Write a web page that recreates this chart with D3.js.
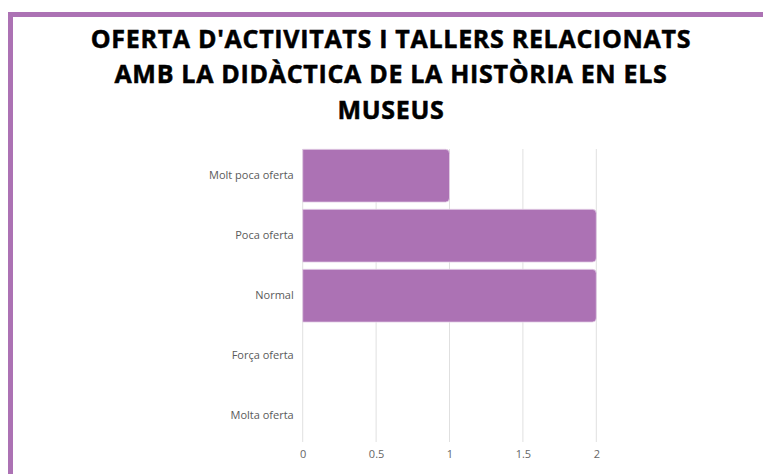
<!DOCTYPE html>
<html>
<head>
  <meta charset="utf-8">
  <title>Oferta d'activitats i tallers</title>
  <style>
    body { margin: 0; background: #fff; }
    svg { display: block; }
  </style>
</head>
<body>
  <script src="https://cdn.jsdelivr.net/npm/d3@7/dist/d3.min.js"></script>
  <script>
    // data
    var categories = ["Molt poca oferta", "Poca oferta", "Normal", "Força oferta", "Molta oferta"];
    var values = [1, 2, 2, 0, 0];
    var xTicks = [0, 0.5, 1, 1.5, 2];
    var titleLines = ["OFERTA D'ACTIVITATS I TALLERS RELACIONATS", "AMB LA DIDÀCTICA DE LA HISTÒRIA EN ELS", "MUSEUS"];

    var w = 763, h = 474;
    var purple = "#ac72b4";

    var svg = d3.select("body").append("svg")
        .attr("width", w)
        .attr("height", h);

    // frame (top + left)
    svg.append("rect").attr("x", 8).attr("y", 12).attr("width", w - 8).attr("height", 5).attr("fill", purple);
    svg.append("rect").attr("x", 8).attr("y", 12).attr("width", 5).attr("height", h - 12).attr("fill", purple);

    // title
    svg.append("text")
        .attr("text-anchor", "middle")
        .style("font-family", "'Open Sans', sans-serif")
        .style("font-weight", 700)
        .style("font-size", "25px")
        .style("letter-spacing", "0.7px")
        .style("stroke", "#000")
        .style("stroke-width", "0.5px")
        .attr("fill", "#000")
        .selectAll("tspan")
        .data(titleLines)
        .enter().append("tspan")
        .attr("x", 391)
        .attr("y", function(d, i) { return 47.5 + i * 35.5; })
        .text(function(d) { return d; });

    var x = d3.scaleLinear().domain([0, 2]).range([302.7, 596.3]);
    var y = d3.scaleBand().domain(categories).range([145.7, 445.7]).paddingInner(0.12).paddingOuter(0.06);

    // gridlines
    svg.append("g").selectAll("line")
        .data(xTicks)
        .enter().append("line")
        .attr("x1", function(d) { return x(d); })
        .attr("x2", function(d) { return x(d); })
        .attr("y1", 149)
        .attr("y2", 442)
        .attr("stroke", "#e0e0e0")
        .attr("stroke-width", 1);

    // bars with rounded right corners
    var r = 4;
    svg.append("g").selectAll("path")
        .data(values.map(function(v, i) { return { cat: categories[i], v: v }; }).filter(function(d) { return d.v > 0; }))
        .enter().append("path")
        .attr("d", function(d) {
          var x0 = x(0), x1 = x(d.v), y0 = y(d.cat), y1 = y0 + y.bandwidth();
          return "M" + x0 + "," + y0 + "H" + (x1 - r) + "Q" + x1 + "," + y0 + " " + x1 + "," + (y0 + r) +
            "V" + (y1 - r) + "Q" + x1 + "," + y1 + " " + (x1 - r) + "," + y1 + "H" + x0 + "Z";
        })
        .attr("fill", purple)
        .attr("stroke", "#e6d3e8")
        .attr("stroke-width", 0.8);

    // x axis
    var xAxis = d3.axisBottom(x).tickValues(xTicks).tickSize(0).tickPadding(0)
        .tickFormat(function(d) { return String(d); });
    var gx = svg.append("g")
        .attr("transform", "translate(0,450)")
        .call(xAxis);
    gx.select(".domain").remove();
    gx.selectAll("text")
        .attr("dy", "0.71em")
        .attr("fill", "#666")
        .style("font-family", "'Open Sans', sans-serif")
        .style("font-size", "11px");

    // y axis
    var yAxis = d3.axisLeft(y).tickSize(0).tickPadding(9);
    var gy = svg.append("g")
        .attr("transform", "translate(302.7,0)")
        .call(yAxis);
    gy.select(".domain").remove();
    gy.selectAll("text")
        .attr("fill", "#5a5a5a")
        .style("font-family", "'Open Sans', sans-serif")
        .style("font-size", "11px");
  </script>
</body>
</html>
